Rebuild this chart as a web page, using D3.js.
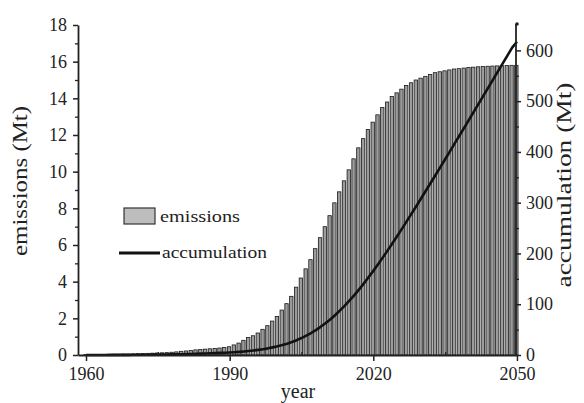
<!DOCTYPE html>
<html><head><meta charset="utf-8">
<script src="https://cdn.jsdelivr.net/npm/d3@7"></script>
<style>body{margin:0;background:#fff}svg{display:block}text{font-family:"Liberation Serif","Times New Roman",serif;fill:#222}</style>
</head><body><svg id="c" width="584" height="403"></svg>
<script>
const years = d3.range(1960, 2051);
const emissions = [
0.02,0.02,0.02,0.03,0.03,0.03,0.04,0.04,0.05,0.05,
0.06,0.07,0.08,0.09,0.10,0.11,0.12,0.13,0.15,0.17,
0.20,0.22,0.25,0.28,0.30,0.32,0.34,0.36,0.38,0.41,
0.45,0.55,0.65,0.80,0.95,1.05,1.20,1.40,1.60,1.85,
2.10,2.45,2.80,3.20,3.70,4.20,4.70,5.20,5.80,6.40,
7.00,7.60,8.30,8.90,9.50,10.10,10.70,11.30,11.80,12.30,
12.70,13.10,13.50,13.80,14.10,14.30,14.50,14.70,14.85,15.00,
15.10,15.20,15.30,15.40,15.45,15.50,15.55,15.60,15.62,15.65,
15.68,15.70,15.72,15.74,15.75,15.76,15.77,15.78,15.79,15.80,15.80];
const accumulation = [
0.0,0.0,0.1,0.1,0.1,0.2,0.2,0.2,0.3,0.3,
0.4,0.5,0.5,0.6,0.7,0.8,1.0,1.1,1.2,1.4,
1.6,1.8,2.1,2.4,2.7,3.0,3.3,3.7,4.1,4.5,
4.9,5.5,6.1,6.9,7.9,8.9,10.1,11.5,13.1,15.0,
17.1,19.5,22.3,25.5,29.2,33.4,38.1,43.3,49.1,55.5,
62.5,70.1,78.4,87.3,96.8,106.9,117.6,128.9,140.7,153.0,
165.7,178.8,192.3,206.1,220.2,234.5,249.0,263.7,278.6,293.6,
308.7,323.9,339.2,354.6,370.0,385.5,401.1,416.7,432.3,447.9,
463.6,479.3,495.0,510.8,526.5,542.3,558.1,573.8,589.6,605.4,617.0];
const xTicks = [1960, 1990, 2020, 2050];
const xMinor = [1975, 2005, 2035];
const yTicks = [0,2,4,6,8,10,12,14,16,18];
const yMinor = [1,3,5,7,9,11,13,15,17];
const y2Ticks = [0,100,200,300,400,500,600];
const y2Minor = [50,150,250,350,450,550];
const seriesNames = ["emissions", "accumulation"];

const svg = d3.select("#c");
const L = 78, R = 516, T = 25, B = 355;
const x = d3.scaleLinear().domain([1958.33, 2049.8]).range([L, R]);
const y = d3.scaleLinear().domain([0, 18]).range([B, T]);
const y2 = d3.scaleLinear().domain([0, 650]).range([B, T]);
const step = x(1961) - x(1960);
const bw = step * 0.7;

// bars
svg.append("g").selectAll("rect").data(years).join("rect")
  .attr("x", (d) => x(d) - bw / 2 - 0.6)
  .attr("y", (d, i) => y(emissions[i]))
  .attr("width", bw)
  .attr("height", (d, i) => B - y(emissions[i]))
  .attr("fill", "#9c9c9c").attr("stroke", "#1a1a1a").attr("stroke-width", 0.8);

// line
const line = d3.line().x((d) => x(d)).y((d, i) => y2(accumulation[i]));
svg.append("path").datum(years).attr("d", line)
  .attr("fill", "none").attr("stroke", "#111").attr("stroke-width", 2.6).attr("stroke-linejoin", "round");

// axes
const fs = 18;
function styleAxis(g){
  g.select(".domain").attr("stroke", "#222").attr("stroke-width", 1.8);
  g.selectAll(".tick line").attr("stroke", "#222").attr("stroke-width", 1.5);
  g.selectAll(".tick text").attr("font-size", fs).attr("fill", "#222");
}
const gx = svg.append("g").attr("transform", `translate(0,${B})`)
  .call(d3.axisBottom(x).tickValues(xTicks).tickFormat(d3.format("d")).tickSize(6).tickSizeOuter(0).tickPadding(6));
styleAxis(gx);
svg.append("g").attr("transform", `translate(0,${B})`)
  .call(d3.axisTop(x).tickValues(xMinor).tickFormat("").tickSize(3).tickSizeOuter(0))
  .call(g => { g.select(".domain").remove(); g.selectAll("line").attr("stroke", "#222").attr("stroke-width", 1.3); });

const gy = svg.append("g").attr("transform", `translate(${L},0)`)
  .call(d3.axisLeft(y).tickValues(yTicks).tickSize(5).tickSizeOuter(0).tickPadding(6));
styleAxis(gy);
svg.append("g").attr("transform", `translate(${L},0)`)
  .call(d3.axisLeft(y).tickValues(yMinor).tickFormat("").tickSize(3).tickSizeOuter(0))
  .call(g => { g.select(".domain").remove(); g.selectAll("line").attr("stroke", "#222").attr("stroke-width", 1.3); });

const gy2 = svg.append("g").attr("transform", `translate(${R},0)`)
  .call(d3.axisRight(y2).tickValues(y2Ticks).tickSize(5).tickSizeOuter(0).tickPadding(5));
styleAxis(gy2);
gy2.select(".domain").attr("d", `M0,${B}V${T - 1}`);
svg.append("g").attr("transform", `translate(${R},0)`)
  .call(d3.axisRight(y2).tickValues(y2Minor).tickFormat("").tickSize(3).tickSizeOuter(0))
  .call(g => { g.select(".domain").remove(); g.selectAll("line").attr("stroke", "#222").attr("stroke-width", 1.3); });
svg.append("circle").attr("cx", R + 1).attr("cy", T - 1).attr("r", 1.8).attr("fill", "#222");

// axis titles
svg.append("text").attr("transform", "translate(27,181) rotate(-90)")
  .attr("text-anchor", "middle").attr("font-size", 20)
  .attr("textLength", 150).attr("lengthAdjust", "spacingAndGlyphs").text("emissions (Mt)");
svg.append("text").attr("transform", "translate(571,185) rotate(-90)")
  .attr("text-anchor", "middle").attr("font-size", 20)
  .attr("textLength", 205).attr("lengthAdjust", "spacingAndGlyphs").text("accumulation (Mt)");
svg.append("text").attr("x", 298).attr("y", 398).attr("text-anchor", "middle")
  .attr("font-size", 20).text("year");

// legend
const lg = svg.append("g");
lg.append("rect").attr("x", 124).attr("y", 208).attr("width", 31).attr("height", 16)
  .attr("fill", "#bdbdbd").attr("stroke", "#333").attr("stroke-width", 1.2);
lg.append("text").attr("x", 160).attr("y", 222).attr("font-size", 17)
  .attr("textLength", 80).attr("lengthAdjust", "spacingAndGlyphs").text(seriesNames[0]);
lg.append("line").attr("x1", 119).attr("x2", 160).attr("y1", 253).attr("y2", 253)
  .attr("stroke", "#111").attr("stroke-width", 2.8);
lg.append("text").attr("x", 162).attr("y", 258).attr("font-size", 17)
  .attr("textLength", 105).attr("lengthAdjust", "spacingAndGlyphs").text(seriesNames[1]);
</script></body></html>
